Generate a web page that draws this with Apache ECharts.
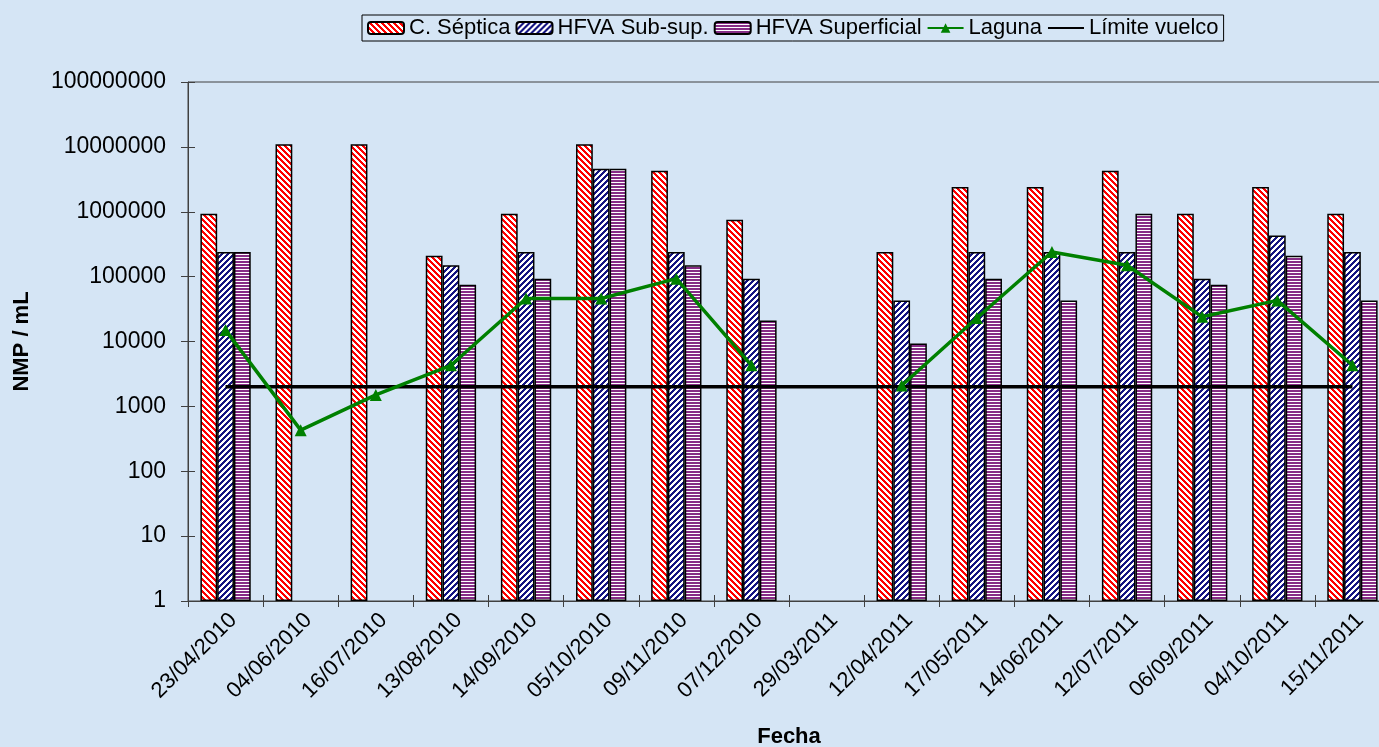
<!DOCTYPE html>
<html>
<head>
<meta charset="utf-8">
<script src="https://cdn.jsdelivr.net/npm/echarts@6/dist/echarts.min.js"></script>
<style>
  html, body { margin: 0; padding: 0; background: #d5e5f5; }
  #chart { width: 1379px; height: 747px; }
</style>
</head>
<body>
<div id="chart"></div>
<script>
// Sampling dates
const categories = ['23/04/2010', '04/06/2010', '16/07/2010', '13/08/2010', '14/09/2010', '05/10/2010',
  '09/11/2010', '07/12/2010', '29/03/2011', '12/04/2011', '17/05/2011', '14/06/2011',
  '12/07/2011', '06/09/2011', '04/10/2011', '15/11/2011'];

// NMP / mL per sampling point
const septica = [930000, 11000000, 11000000, 210000, 930000, 11000000, 4300000, 750000, null,
  240000, 2400000, 2400000, 4300000, 930000, 2400000, 930000];
const subSup = [240000, null, null, 150000, 240000, 4600000, 240000, 93000, null,
  43000, 240000, 240000, 240000, 93000, 430000, 240000];
const superficial = [240000, null, null, 75000, 93000, 4600000, 150000, 21000, null,
  9300, 93000, 43000, 930000, 75000, 210000, 43000];
const laguna = [15000, 430, 1500, 4300, 46000, 46000, 93000, 4300, null,
  2100, 23000, 240000, 150000, 24000, 43000, 4300];
const limite = [2000, 2000, 2000, 2000, 2000, 2000, 2000, 2000, 2000,
  2000, 2000, 2000, 2000, 2000, 2000, 2000];

// Y-axis tick labels, one per decade
const yTickLabels = ['1', '10', '100', '1000', '10000', '100000', '1000000', '10000000', '100000000'];

// Hatch fills for the bars
function hatch(kind, fg, bg) {
  const n = kind === 'h' ? 3 : 6;
  const c = document.createElement('canvas');
  c.width = n; c.height = n;
  const ctx = c.getContext('2d');
  ctx.fillStyle = bg;
  ctx.fillRect(0, 0, n, n);
  ctx.fillStyle = fg;
  for (let y = 0; y < n; y++) {
    for (let x = 0; x < n; x++) {
      let on;
      if (kind === 'down') on = ((x - y) % n + n) % n < 3;
      else if (kind === 'up') on = (x + y) % n < 3;
      else on = y % n < 2;
      if (on) ctx.fillRect(x, y, 1, 1);
    }
  }
  return { image: c, repeat: 'repeat' };
}

const FONT = '"Liberation Sans", Arial, sans-serif';
const chart = echarts.init(document.getElementById('chart'));

const barStyle = (fill) => ({ color: fill, borderColor: '#000', borderWidth: 1.5 });

const yBase = {
  type: 'log', logBase: 10, min: 1, max: 100000000, splitNumber: 8,
  splitLine: { show: false }
};

chart.setOption({
  backgroundColor: '#d5e5f5',
  animation: false,
  textStyle: { fontFamily: FONT },
  legend: {
    left: 362, top: 15,
    padding: [2, 5],
    itemGap: 5,
    itemWidth: 36, itemHeight: 12,
    borderColor: '#000', borderWidth: 1,
    textStyle: { fontSize: 22, color: '#000', fontFamily: FONT },
    data: ['C. Séptica', 'HFVA Sub-sup.', 'HFVA Superficial', 'Laguna',
      { name: 'Límite vuelco', itemStyle: { opacity: 0 } }]
  },
  grid: {
    left: 188, top: 82, width: 1202, height: 519,
    outerBoundsMode: 'none', containLabel: false,
    show: true, borderColor: '#404040', borderWidth: 1, backgroundColor: 'transparent'
  },
  xAxis: [{
    type: 'category', data: categories,
    axisLine: { lineStyle: { color: '#404040', width: 1 } },
    axisTick: { show: true, interval: 0, length: 6, lineStyle: { color: '#404040' } },
    axisLabel: {
      interval: 0, rotate: 45, margin: 8, verticalAlign: 'top',
      fontSize: 22, color: '#000', fontFamily: FONT
    },
    name: 'Fecha', nameLocation: 'middle', nameGap: 125,
    nameTextStyle: { fontSize: 22, fontWeight: 'bold', color: '#000', fontFamily: FONT }
  }, {
    type: 'category', data: categories, position: 'bottom',
    axisLine: { show: false },
    axisTick: { show: true, inside: true, interval: 0, length: 6, lineStyle: { color: '#404040' } },
    axisLabel: { show: false }
  }],
  yAxis: [Object.assign({}, yBase, {
    axisLine: { show: true, lineStyle: { color: '#404040', width: 1 } },
    axisTick: { show: true, length: 7, lineStyle: { color: '#404040' } },
    axisLabel: {
      margin: 22, fontSize: 23, color: '#000', fontFamily: FONT,
      formatter: (v) => yTickLabels[Math.round(Math.log10(v))]
    },
    name: 'NMP / mL', nameLocation: 'middle', nameGap: 155,
    nameTextStyle: { fontSize: 22, fontWeight: 'bold', color: '#000', fontFamily: FONT }
  }), Object.assign({}, yBase, {
    position: 'left',
    axisLine: { show: false },
    axisTick: { show: true, inside: true, length: 7, lineStyle: { color: '#404040' } },
    axisLabel: { show: false }
  })],
  series: [
    {
      name: 'C. Séptica', type: 'bar', data: septica,
      barGap: '0%', barCategoryGap: '33%',
      itemStyle: barStyle(hatch('down', '#ff0000', '#ffffff'))
    },
    {
      name: 'HFVA Sub-sup.', type: 'bar', data: subSup,
      barGap: '0%', barCategoryGap: '33%',
      itemStyle: barStyle(hatch('up', '#141482', '#ffffff'))
    },
    {
      name: 'HFVA Superficial', type: 'bar', data: superficial,
      barGap: '0%', barCategoryGap: '33%',
      itemStyle: barStyle(hatch('h', '#862c86', '#ffffff'))
    },
    {
      name: 'Laguna', type: 'line', data: laguna, connectNulls: false,
      symbol: 'triangle', symbolSize: 12, z: 5,
      lineStyle: { color: '#008000', width: 3.5 },
      itemStyle: { color: '#008000' }
    },
    {
      name: 'Límite vuelco', type: 'line', data: limite,
      symbol: 'none', z: 4,
      lineStyle: { color: '#000000', width: 3.5 },
      itemStyle: { color: '#000000' }
    }
  ]
});
</script>
</body>
</html>
